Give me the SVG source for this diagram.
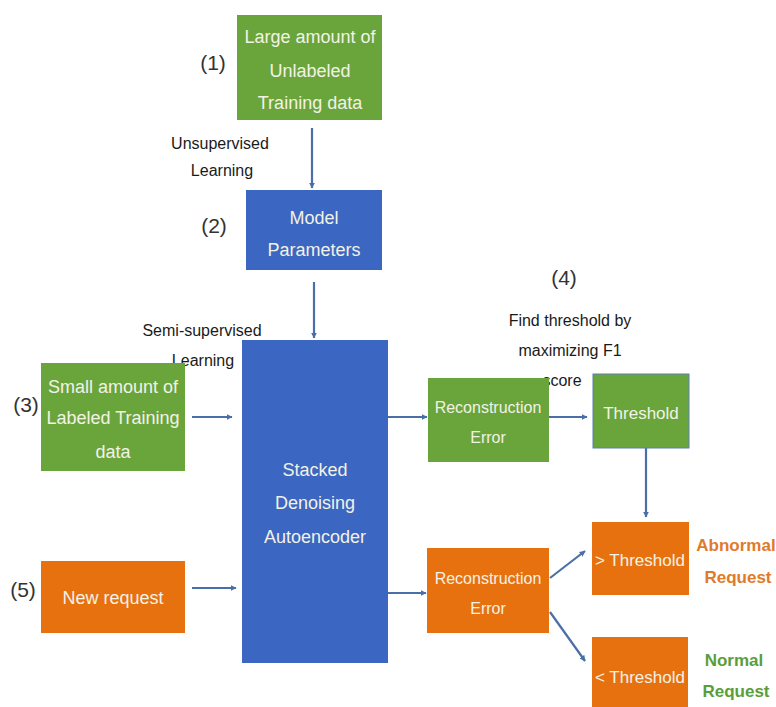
<svg xmlns="http://www.w3.org/2000/svg" width="776" height="707" viewBox="0 0 776 707">
<defs>
<marker id="ah" viewBox="0 0 10 10" refX="9" refY="5" markerWidth="6" markerHeight="6" orient="auto" markerUnits="userSpaceOnUse">
<path d="M0,0 L10,5 L0,10 z" fill="#4a6fa8"/>
</marker>
<style>
.g{fill:#6aa53c}
.b{fill:#3b66c1}
.o{fill:#e8710f}
.bt{font-family:"Liberation Sans",Arial,sans-serif;font-size:18px;fill:#f2f2e6;text-anchor:middle}
.lt{font-family:"Liberation Sans",Arial,sans-serif;font-size:16px;fill:#1a1a1a;text-anchor:middle}
.num{font-family:"Liberation Sans",Arial,sans-serif;font-size:21px;fill:#333;text-anchor:middle}
.res{font-family:"Liberation Sans",Arial,sans-serif;font-size:17px;font-weight:bold;text-anchor:middle}
.c{stroke:#4a6fa8;stroke-width:2.2;fill:none;marker-end:url(#ah)}
</style>
</defs>
<rect width="776" height="707" fill="#ffffff"/>
<g id="connectors">
<line class="c" x1="312" y1="128" x2="312" y2="188"/>
<line class="c" x1="314" y1="282" x2="314" y2="338"/>
<line class="c" x1="192" y1="417" x2="232" y2="417"/>
<line class="c" x1="192" y1="588" x2="236" y2="588"/>
<line class="c" x1="388" y1="417" x2="427" y2="417"/>
<line class="c" x1="549" y1="417" x2="587" y2="417"/>
<line class="c" x1="646" y1="448" x2="646" y2="517"/>
<line class="c" x1="388" y1="593" x2="426" y2="593"/>
<line class="c" x1="550" y1="578" x2="585" y2="551"/>
<line class="c" x1="550" y1="612" x2="585" y2="661"/>
</g>
<g id="label-unsupervised">
<text class="lt" x="220" y="149">Unsupervised</text>
<text class="lt" x="222" y="176">Learning</text>
</g>
<g id="label-semi">
<text class="lt" x="202" y="336">Semi-supervised</text>
<text class="lt" x="203" y="366">Learning</text>
</g>
<g id="label-4">
<text class="num" x="564" y="285">(4)</text>
<text class="lt" x="570" y="326">Find threshold by</text>
<text class="lt" x="570" y="356">maximizing F1</text>
<text class="lt" x="562" y="386">score</text>
</g>
<g id="node1">
<text class="num" x="213" y="70">(1)</text>
<rect class="g" x="237" y="15" width="145" height="105"/>
<text class="bt" x="310" y="43">Large amount of</text>
<text class="bt" x="310" y="77">Unlabeled</text>
<text class="bt" x="310" y="109">Training data</text>
</g>
<g id="node2">
<text class="num" x="214" y="233">(2)</text>
<rect class="b" x="246" y="190" width="136" height="80"/>
<text class="bt" x="314" y="224">Model</text>
<text class="bt" x="314" y="256">Parameters</text>
</g>
<g id="node3">
<text class="num" x="26" y="412">(3)</text>
<rect class="g" x="41" y="363" width="144" height="108"/>
<text class="bt" x="113" y="393">Small amount of</text>
<text class="bt" x="113" y="424">Labeled Training</text>
<text class="bt" x="113" y="458">data</text>
</g>
<g id="node5">
<text class="num" x="23" y="597">(5)</text>
<rect class="o" x="41" y="561" width="144" height="72"/>
<text class="bt" x="113" y="604">New request</text>
</g>
<g id="sda">
<rect class="b" x="242" y="340" width="146" height="323"/>
<text class="bt" x="315" y="476">Stacked</text>
<text class="bt" x="315" y="509">Denoising</text>
<text class="bt" x="315" y="543">Autoencoder</text>
</g>
<g id="re-green">
<rect class="g" x="428" y="378" width="121" height="84"/>
<text class="bt" x="488" y="413" style="font-size:16px">Reconstruction</text>
<text class="bt" x="488" y="443" style="font-size:16px">Error</text>
</g>
<g id="threshold">
<rect class="g" x="593" y="374" width="96" height="74" stroke="#5b7fb5" stroke-width="1"/>
<text class="bt" x="641" y="419" style="font-size:17px">Threshold</text>
</g>
<g id="re-orange">
<rect class="o" x="427" y="548" width="122" height="85"/>
<text class="bt" x="488" y="584" style="font-size:16px">Reconstruction</text>
<text class="bt" x="488" y="614" style="font-size:16px">Error</text>
</g>
<g id="gt-threshold">
<rect class="o" x="592" y="522" width="97" height="73"/>
<text class="bt" x="640" y="566" style="font-size:17px">&gt; Threshold</text>
</g>
<g id="lt-threshold">
<rect class="o" x="592" y="637" width="96" height="75"/>
<text class="bt" x="640" y="683" style="font-size:17px">&lt; Threshold</text>
</g>
<g id="abnormal">
<text class="res" x="736" y="551" fill="#e07b2a">Abnormal</text>
<text class="res" x="738" y="583" fill="#e07b2a">Request</text>
</g>
<g id="normal">
<text class="res" x="734" y="666" fill="#5a9e3a">Normal</text>
<text class="res" x="736" y="697" fill="#5a9e3a">Request</text>
</g>
</svg>
